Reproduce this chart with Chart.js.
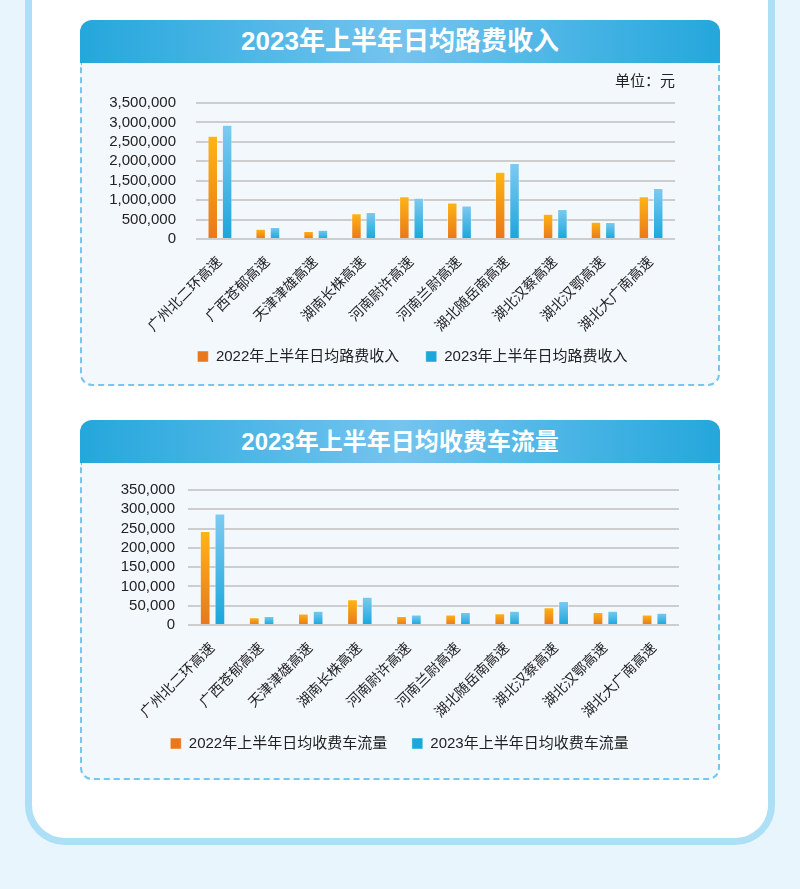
<!DOCTYPE html>
<html lang="zh-CN">
<head>
<meta charset="utf-8">
<title>2023年上半年日均路费收入 / 收费车流量</title>
<script src="https://cdn.jsdelivr.net/npm/chart.js@4.4.0/dist/chart.umd.min.js"></script>
<style>
    html, body {
        margin: 0;
        padding: 0;
    }
    body {
        width: 800px;
        height: 889px;
        position: relative;
        overflow: hidden;
        background: #e8f5fc;
        font-family: "Liberation Sans", "Noto Sans CJK SC", sans-serif;
    }
    .card {
        position: absolute;
        left: 25px;
        top: -60px;
        width: 750px;
        height: 905px;
        box-sizing: border-box;
        border: 7px solid #addff6;
        border-radius: 40px;
        background: #ffffff;
    }
    .panel-head {
        position: absolute;
        left: 80px;
        width: 640px;
        height: 43px;
        border-radius: 12px 12px 0 0;
        background: linear-gradient(90deg, #24a7dc 0%, #74c4ef 50%, #24a7dc 100%);
        color: #ffffff;
        font-weight: bold;
        line-height: 43px;
        text-align: center;
    }
    .panel-body {
        position: absolute;
        left: 80px;
        width: 640px;
        box-sizing: border-box;
        background: #f3f8fd;
        border: 2px dashed #76c6f0;
        border-top: none;
        border-radius: 0 0 12px 12px;
    }
    .chart-box {
        position: absolute;
        left: 80px;
        width: 640px;
    }
</style>
</head>
<body>
<div class="card"></div>

<div class="panel-head" style="top:20px; font-size:26px">2023年上半年日均路费收入</div>
<div class="panel-body" style="top:63px; height:323px"></div>
<div class="chart-box" style="top:63px; height:323px"><canvas id="chart-toll"></canvas></div>

<div class="panel-head" style="top:420px; font-size:24px">2023年上半年日均收费车流量</div>
<div class="panel-body" style="top:463px; height:317px"></div>
<div class="chart-box" style="top:463px; height:317px"><canvas id="chart-traffic"></canvas></div>

<script>
// 路段
const roads = ['广州北二环高速', '广西苍郁高速', '天津津雄高速', '湖南长株高速', '河南尉许高速',
    '河南兰尉高速', '湖北随岳南高速', '湖北汉蔡高速', '湖北汉鄂高速', '湖北大广南高速'];

// 日均路费收入（元）
const toll2022 = [2660000, 265000, 205000, 660000, 1100000, 940000, 1730000, 650000, 445000, 1100000];
const toll2023 = [2940000, 310000, 240000, 695000, 1060000, 865000, 1955000, 770000, 440000, 1310000];

// 日均收费车流量
const traffic2022 = [243500, 20000, 29500, 66500, 23500, 27000, 30500, 46000, 34000, 27000];
const traffic2023 = [289000, 23500, 37000, 73000, 27000, 34000, 37000, 62500, 37000, 32000];

// y 轴刻度
const tollTicks = [0, 500000, 1000000, 1500000, 2000000, 2500000, 3000000, 3500000];
const trafficTicks = [0, 50000, 100000, 150000, 200000, 250000, 300000, 350000];

const FONT = '"Liberation Sans", "Noto Sans CJK SC", sans-serif';
const ORANGE = { top: '#fdb515', bottom: '#e8781b', mid: '#f39a1a' };
const BLUE = { top: '#7ecbf1', bottom: '#1ba6dc', mid: '#3ab4e6' };

// each bar gets its own top-to-bottom gradient
function barFill(c) {
    return function (ctx) {
        const chart = ctx.chart;
        const y = chart.scales && chart.scales.y;
        if (!chart.chartArea || !y || typeof ctx.raw !== 'number') return c.mid;
        const y0 = y.getPixelForValue(0);
        const y1 = y.getPixelForValue(ctx.raw);
        if (!isFinite(y0) || !isFinite(y1) || y0 === y1) return c.mid;
        const g = chart.ctx.createLinearGradient(0, y1, 0, y0);
        g.addColorStop(0, c.top);
        g.addColorStop(1, c.bottom);
        return g;
    };
}

// nudge the legend sideways after layout (it is not centred on the canvas in the original)
const legendShift = {
    id: 'legendShift',
    afterLayout(chart, args, opts) {
        if (chart.legend && opts.dx) {
            chart.legend.left += opts.dx;
            chart.legend.right += opts.dx;
        }
    }
};

function dataset(label, data, c) {
    return {
        label: label,
        data: data,
        backgroundColor: barFill(c),
        borderColor: 'rgba(255, 255, 255, 0.45)',
        borderWidth: 1,
        categoryPercentage: 0.6,
        barPercentage: 0.73
    };
}

function makeChart(id, cfg) {
    return new Chart(document.getElementById(id), {
        type: 'bar',
        plugins: [legendShift],
        data: {
            labels: roads,
            datasets: [
                dataset(cfg.labels[0], cfg.a, ORANGE),
                dataset(cfg.labels[1], cfg.b, BLUE)
            ]
        },
        options: {
            responsive: true,
            maintainAspectRatio: false,
            animation: false,
            layout: { padding: cfg.padding },
            plugins: {
                legendShift: { dx: cfg.legendDx },
                title: cfg.unit ? {
                    display: true,
                    text: cfg.unit,
                    align: 'end',
                    color: '#222',
                    font: { family: FONT, size: 15, weight: 'normal' },
                    padding: { top: 10, bottom: 12 }
                } : { display: false },
                legend: {
                    position: 'bottom',
                    labels: {
                        color: '#222',
                        font: { family: FONT, size: 15 },
                        boxWidth: 11,
                        boxHeight: 11,
                        padding: cfg.legendPad,
                        // extra gap between the two items without extra height
                        generateLabels: chart => {
                            const items = Chart.defaults.plugins.legend.labels.generateLabels(chart);
                            items[0].text += ' '.repeat(cfg.legendSpaces);
                            return items;
                        }
                    }
                },
                tooltip: { enabled: false }
            },
            scales: {
                x: {
                    grid: { display: false },
                    border: { display: false },
                    ticks: {
                        color: '#222',
                        font: { family: FONT, size: 14 },
                        minRotation: 45,
                        maxRotation: 45,
                        autoSkip: false,
                        padding: 7
                    },
                    afterFit: s => { s.height = cfg.xHeight; }
                },
                y: {
                    min: 0,
                    max: cfg.ticks[cfg.ticks.length - 1],
                    border: { display: false },
                    grid: { color: '#cdcdcd', lineWidth: 2, drawTicks: false },
                    afterBuildTicks: s => { s.ticks = cfg.ticks.map(v => ({ value: v })); },
                    afterFit: s => { s.width = cfg.yWidth; },
                    ticks: {
                        color: '#222',
                        font: { family: FONT, size: 15 },
                        autoSkip: false,
                        padding: cfg.tickPad,
                        callback: v => v.toLocaleString('en-US')
                    }
                }
            }
        }
    });
}

makeChart('chart-toll', {
    labels: ['2022年上半年日均路费收入', '2023年上半年日均路费收入'],
    a: toll2022,
    b: toll2023,
    ticks: tollTicks,
    unit: '单位：元',
    padding: { left: 20, right: 45, top: 0, bottom: 12 },
    yWidth: 96,
    tickPad: 20,
    xHeight: 96,
    legendPad: 14,
    legendSpaces: 3,
    legendDx: 25
});

makeChart('chart-traffic', {
    labels: ['2022年上半年日均收费车流量', '2023年上半年日均收费车流量'],
    a: traffic2022,
    b: traffic2023,
    ticks: trafficTicks,
    unit: null,
    padding: { left: 38, right: 41, top: 27, bottom: 19 },
    yWidth: 70,
    tickPad: 13,
    xHeight: 103,
    legendPad: 8,
    legendSpaces: 4,
    legendDx: 1
});
</script>
</body>
</html>
